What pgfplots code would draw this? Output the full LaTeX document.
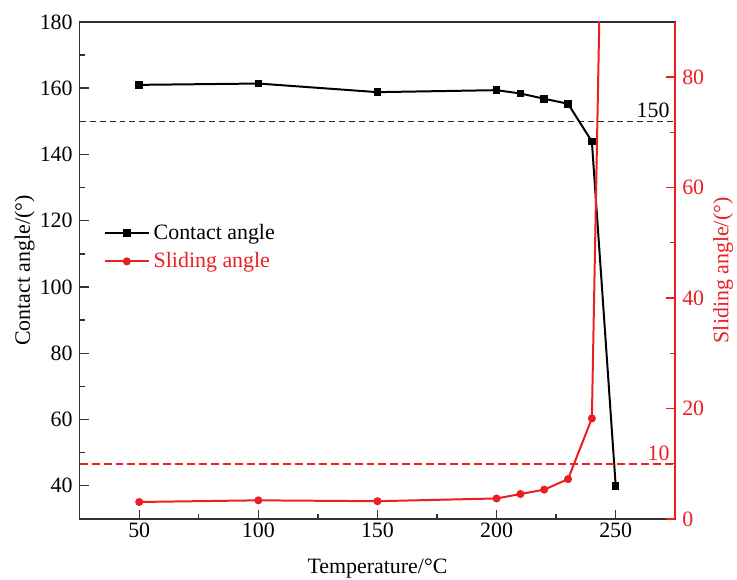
\documentclass[border=0pt]{standalone}
\usepackage{fontspec}
\setmainfont{Liberation Serif}
\usepackage{pgfplots}
\pgfplotsset{compat=1.18}
\usetikzlibrary{calc}
\definecolor{refred}{RGB}{235,30,35}

\pgfplotsset{
  base/.style={
    width=299pt, height=249.5pt, scale only axis,
    xmin=25, xmax=275,
    font=\fontsize{11}{13}\selectfont,
    tick align=inside,
    major tick length=4.5pt, minor tick length=2.5pt,
    /pgf/number format/assume math mode=true,
    axis line style={black!80, line width=0.8pt},
    every tick/.style={black!80, line width=0.7pt},
    label style={inner sep=1pt},
  },
}

\begin{document}
\begin{tikzpicture}
\begin{axis}[base, name=A,
    ymin=30, ymax=180,
    ytick={40,60,...,180}, minor y tick num=1,
    xtick={50,100,...,250}, minor x tick num=1,
    xtick pos=bottom, ytick pos=left,
    xticklabel style={yshift=1.5pt},
    xlabel={Temperature/°C}, xlabel shift=6pt,
    ylabel={Contact angle/(°)}, ylabel shift=-2pt,
    legend style={at={(0.03,0.61)}, anchor=north west, draw=none, fill=none,
        font=\fontsize{11}{13}\selectfont, row sep=1pt},
    legend cell align=left,
    legend image code/.code={\draw[mark repeat=2,mark phase=2,#1]
        plot coordinates {(0pt,0pt) (11pt,0pt) (22pt,0pt)};},
]
\addplot[black!85, line width=0.8pt, dash pattern=on 3pt off 2pt, forget plot]
  coordinates {(25,150) (275,150)};
\node[anchor=south east, inner sep=1.5pt] at (axis cs:274,150) {150};

\addplot[black, line width=1pt, mark=square*, mark size=1.4pt] coordinates {
  (50,161.0) (100,161.4) (150,158.8) (200,159.4) (210,158.4)
  (220,156.8) (230,155.3) (240,143.9) (250,40.0)
};
\addlegendentry{Contact angle}
\addlegendimage{refred, line width=1pt, mark=*, mark size=1.5pt}
\addlegendentry[text=refred]{Sliding angle}
\end{axis}

\begin{axis}[base,
    ymin=0, ymax=90,
    axis x line=none, axis y line*=right,
    ytick={0,20,...,80}, minor y tick num=1,
    y axis line style={refred, line width=0.8pt},
    every tick/.style={refred, line width=0.7pt},
    yticklabel style={text=refred},
    ylabel={Sliding angle/(°)}, ylabel shift=0pt,
    ylabel style={text=refred},
]
\addplot[color=refred, line width=1pt, dash pattern=on 4pt off 2pt, forget plot]
  coordinates {(25,10) (275,10)};
\node[anchor=south east, inner sep=1.5pt, text=refred] at (axis cs:274,10) {10};

\addplot[refred, line width=1pt, mark=*, mark size=1.5pt] coordinates {
  (50,3.06) (100,3.36) (150,3.2) (200,3.7) (210,4.5)
  (220,5.3) (230,7.2) (240,18.2) (250,250)
};
\end{axis}

\path ($(A.south west)+(-40pt,-29.5pt)$) rectangle ($(A.north east)+(31pt,11pt)$);
\end{tikzpicture}
\end{document}
